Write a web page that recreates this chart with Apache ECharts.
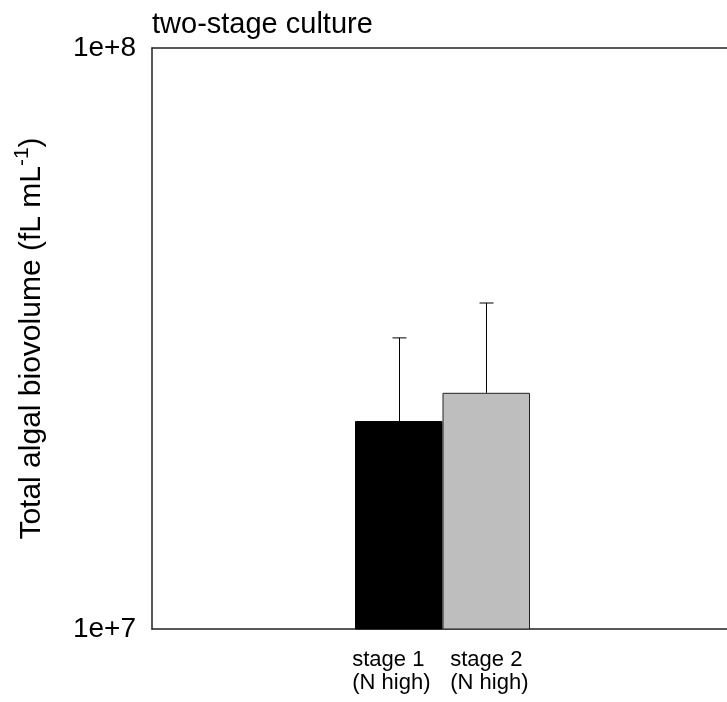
<!DOCTYPE html>
<html>
<head>
<meta charset="utf-8">
<script src="https://cdn.jsdelivr.net/npm/echarts@6/dist/echarts.min.js"></script>
<style>
  html, body { margin: 0; padding: 0; background: #fff; }
  #chart { width: 727px; height: 702px; }
</style>
</head>
<body>
<div id="chart"></div>
<script>
// Biovolume per culture stage (fL per mL), mean and SD
const categories = ['stage 1', 'stage 2'];
const subLabels = ['(N high)', '(N high)'];
const means = [2.28e7, 2.55e7];
const sds = [0.89e7, 1.09e7];
const yTickLabels = ['1e+7', '1e+8'];
const yMin = 1e7;
const yMax = 1e8;

const FONT = '"Liberation Sans", Arial, Helvetica, sans-serif';
const barColors = ['#000000', '#bebebe'];
const barBorders = ['#000000', '#222222'];
const frameLine = { show: true, lineStyle: { color: '#222', width: 1.5 } };

const chart = echarts.init(document.getElementById('chart'), null, { renderer: 'canvas' });

const plotTop = 48, plotHeight = 581;

chart.setOption({
  animation: false,
  backgroundColor: '#ffffff',
  textStyle: { fontFamily: FONT, color: '#000' },
  title: {
    text: 'two-stage culture',
    left: 152,
    top: 10,
    padding: 0,
    textStyle: { fontFamily: FONT, fontSize: 29, fontWeight: 'normal', color: '#000' }
  },
  grid: [
    // plotting region; its right edge runs past the canvas
    { left: 152, top: plotTop, width: 580, height: plotHeight, containLabel: false },
    // region holding the two adjacent bars
    { left: 355, top: plotTop, width: 175, height: plotHeight, containLabel: false }
  ],
  xAxis: [
    { gridIndex: 0, type: 'value', min: 0, max: 1, position: 'bottom',
      axisLine: frameLine, axisTick: { show: false }, axisLabel: { show: false }, splitLine: { show: false } },
    { gridIndex: 0, type: 'value', min: 0, max: 1, position: 'top',
      axisLine: frameLine, axisTick: { show: false }, axisLabel: { show: false }, splitLine: { show: false } },
    {
      gridIndex: 1, type: 'category', data: categories,
      axisLine: { show: false }, axisTick: { show: false },
      axisLabel: {
        margin: 19,
        interval: 0,
        formatter: function (v, i) {
          const k = i === 0 ? 'a' : 'b';
          return '{' + k + '|' + v + '}\n{' + k + '|' + subLabels[i] + '}';
        },
        rich: {
          a: { fontFamily: FONT, fontSize: 22, lineHeight: 23, color: '#000', width: 79, align: 'left', padding: [0, 14, 0, 0] },
          b: { fontFamily: FONT, fontSize: 22, lineHeight: 23, color: '#000', width: 79, align: 'left', padding: [0, 0, 0, 7] }
        }
      }
    }
  ],
  yAxis: [
    {
      gridIndex: 0, type: 'log', logBase: 10, min: yMin, max: yMax,
      axisLine: frameLine, axisTick: { show: false }, splitLine: { show: false },
      axisLabel: {
        margin: 16,
        fontFamily: FONT, fontSize: 28, color: '#000',
        formatter: function (v) {
          const e = Math.round(Math.log10(v)) - 7;
          return yTickLabels[e] || '';
        }
      },
      name: '{a|Total algal biovolume (fL mL}{s|-1}{a|)}',
      nameLocation: 'middle',
      nameGap: 100,
      nameTextStyle: {
        rich: {
          a: { fontFamily: FONT, fontSize: 30, color: '#000', lineHeight: 40 },
          s: { fontFamily: FONT, fontSize: 21, color: '#000', verticalAlign: 'top', lineHeight: 40, padding: [0, 0, 12, 0] }
        }
      }
    },
    { gridIndex: 1, type: 'log', logBase: 10, min: yMin, max: yMax, show: false }
  ],
  series: [
    {
      type: 'bar',
      xAxisIndex: 2, yAxisIndex: 1,
      barCategoryGap: '0%',
      data: means.map(function (m, i) {
        return { value: m, itemStyle: { color: barColors[i], borderColor: barBorders[i], borderWidth: 1 } };
      })
    },
    {
      // upper error whiskers (mean + SD)
      type: 'custom',
      xAxisIndex: 2, yAxisIndex: 1,
      data: means.map(function (m, i) { return [i, m, m + sds[i]]; }),
      encode: { x: 0, y: [1, 2] },
      z: 5,
      renderItem: function (params, api) {
        const base = api.coord([api.value(0), api.value(1)]);
        const top = api.coord([api.value(0), api.value(2)]);
        const x = Math.round(base[0]) + 0.5;
        const half = 7;
        const st = { stroke: '#000', lineWidth: 1 };
        return {
          type: 'group',
          children: [
            { type: 'line', shape: { x1: x, y1: base[1], x2: x, y2: top[1] }, style: st },
            { type: 'line', shape: { x1: x - half, y1: top[1], x2: x + half, y2: top[1] }, style: st }
          ]
        };
      }
    }
  ]
});
</script>
</body>
</html>
